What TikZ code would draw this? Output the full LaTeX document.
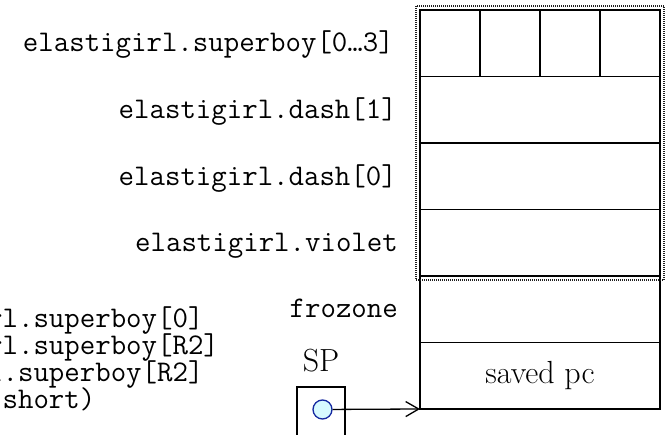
\documentclass[tikz,border=0pt]{standalone}
\usepackage{tikz}
\usetikzlibrary{arrows.meta, positioning, fit}
\definecolor{pointerblue}{RGB}{20,40,160}
\definecolor{pointerfill}{RGB}{215,250,255}
\definecolor{dotgray}{RGB}{30,30,30}
\newcommand\codefont{\ttfamily\fontsize{30}{27}\selectfont\lineskiplimit=-20pt\relax}

\begin{document}
\begin{tikzpicture}[
  x=1pt, y=-1pt,
  cell/.style={rectangle, draw, line width=1.8pt, inner sep=0pt, outer sep=0pt, minimum height=66.5pt},
  slot/.style={cell, minimum width=240pt},
  byte/.style={cell, minimum width=60pt},
  lbl/.style={anchor=base east, inner sep=0pt, font=\ttfamily\fontsize{30}{30}\selectfont},
  code/.style={anchor=base west, inner sep=0pt, align=left, font=\codefont},
  frame/.style={draw=dotgray, line width=1.1pt, dash pattern=on 1pt off 1pt, inner sep=4pt},
  ptr/.style={line width=1.3pt, -{Straight Barb[length=13pt, width=15pt]}}
]
  \useasboundingbox (0,0) rectangle (670,435);
  \clip (0,0) rectangle (670,435);

  % top row of the frame: four bytes side by side
  \node[byte, anchor=north west] (sb0) at (420,10) {};
  \foreach \i [remember=\i as \j (initially 0)] in {1,2,3} {
    \node[byte, right=0pt of sb\j] (sb\i) {};
  }

  % word-sized slots stacked below
  \node[slot, below=0pt of sb0.south west, anchor=north west] (dash1) {};
  \node[slot, below=0pt of dash1] (dash0) {};
  \node[slot, below=0pt of dash0] (violet) {};
  \node[slot, below=0pt of violet] (frozone) {};
  \node[slot, below=0pt of frozone, font=\fontsize{32}{32}\selectfont] (savedpc) {saved pc};

  % the struct's extent
  \node[frame, fit=(sb0)(sb3)(violet)] (elastigirl) {};

  % slot labels
  \node[lbl] (lblsb) at (394,52) {elastigirl.superboy[0…3]};
  \node[lbl] (lbldash1) at (397,119) {elastigirl.dash[1]};
  \node[lbl] (lbldash0) at (397,186) {elastigirl.dash[0]};
  \node[lbl] (lblviolet) at (398,252) {elastigirl.violet};
  \node[lbl] (lblfrozone) at (398,318) {frozone};

  % code lines, running off the left edge (base = last line)
  \node[code] (code) at (-13,409) {rl.superboy[0]\\ rl.superboy[R2]\\ l.superboy[R2]\\ \phantom{x}short)};

  % stack pointer
  \node[draw, line width=1.4pt, minimum width=48pt, minimum height=52pt, inner sep=0pt, outer sep=0pt, anchor=north west] (spbox) at (297,387) {};
  \node[circle, draw=pointerblue, fill=pointerfill, line width=1.3pt, minimum size=19pt, inner sep=0pt] (sp) at (322.5,409.5) {};
  \node[above=15pt of spbox, inner sep=0pt, font=\fontsize{32}{32}\selectfont] (splbl) {SP};
  \draw[ptr] (sp) -- (savedpc.south west);
\end{tikzpicture}
\end{document}
